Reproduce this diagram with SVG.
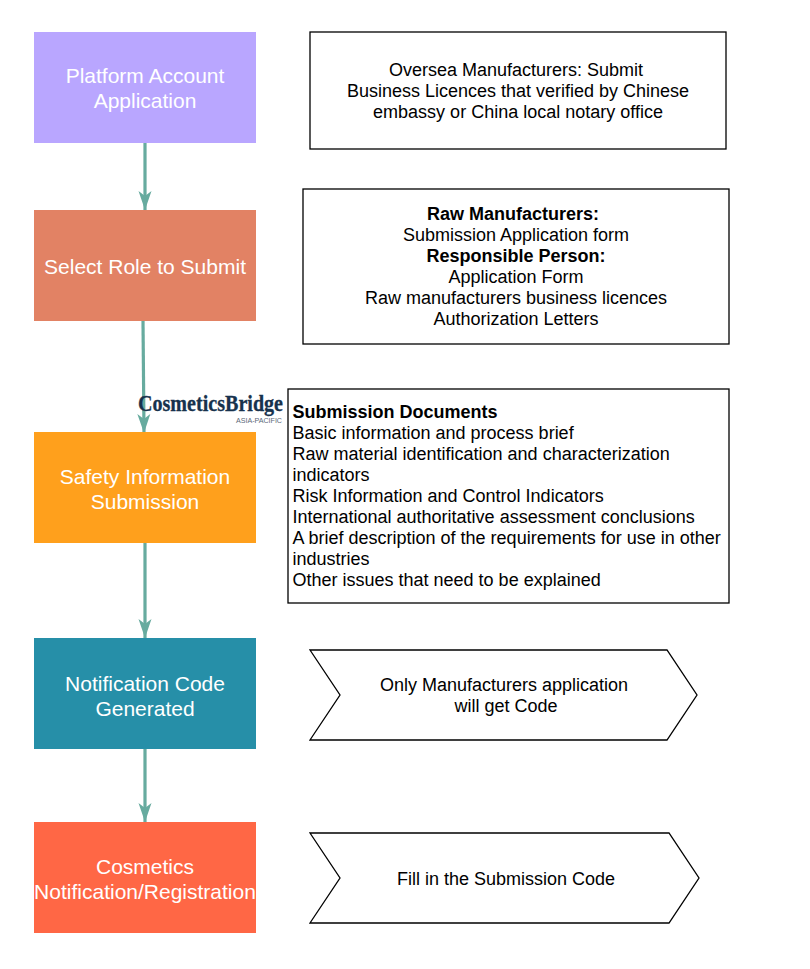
<svg xmlns="http://www.w3.org/2000/svg" width="810" height="969" viewBox="0 0 810 969">
<style>
text{font-family:"Liberation Sans",Arial,sans-serif}
.n text{font-size:21px;fill:#fff;text-anchor:middle}
.b{fill:#fff;stroke:#000;stroke-width:1.3}
.d{font-size:18px;fill:#000;text-anchor:middle}
.l{font-size:18px;fill:#000}
.h{font-weight:bold}
.c{stroke:#67AB9F;stroke-width:3.2;fill:none;marker-end:url(#a)}
</style>
<defs><marker id="a" markerUnits="userSpaceOnUse" markerWidth="20" markerHeight="14" refX="19" refY="7" orient="auto"><path d="M0 .5L19 7L0 13.500L5 7Z" fill="#67AB9F"/></marker></defs>
<rect width="810" height="969" fill="#fff"/>
<g id="connectors">
<path class="c" d="M145 143V210"/>
<path class="c" d="M143 321L144 433"/>
<path class="c" d="M145 543V638"/>
<path class="c" d="M145 749V822"/>
</g>
<g id="n1" class="n"><rect x="34" y="32" width="222" height="111" fill="#B9A6FF"/><text x="145" y="83">Platform Account</text><text x="145" y="108">Application</text></g>
<g id="n2" class="n"><rect x="34" y="210" width="222" height="111" fill="#E28264"/><text x="145" y="274">Select Role to Submit</text></g>
<g id="n3" class="n"><rect x="34" y="432" width="222" height="111" fill="#FFA01C"/><text x="145" y="484">Safety Information</text><text x="145" y="509">Submission</text></g>
<g id="n4" class="n"><rect x="34" y="638" width="222" height="111" fill="#268FA8"/><text x="145" y="691">Notification Code</text><text x="145" y="716">Generated</text></g>
<g id="n5" class="n"><rect x="34" y="822" width="222" height="111" fill="#FF6745"/><text x="145" y="874">Cosmetics</text><text x="145" y="899">Notification/Registration</text></g>
<g id="logo"><text x="138" y="411" font-size="23" font-weight="bold" textLength="145" lengthAdjust="spacingAndGlyphs" fill="#17324d" stroke="#17324d" stroke-width=".3" style="font-family:'Liberation Serif',serif">CosmeticsBridge</text><text x="236" y="423" font-size="7.500" textLength="46" lengthAdjust="spacingAndGlyphs" fill="#5a6878">ASIA-PACIFIC</text></g>
<g id="b1"><rect class="b" x="310" y="32" width="416" height="117"/><text class="d" x="516" y="76">Oversea Manufacturers: Submit</text><text class="d" x="518" y="97">Business Licences that verified by Chinese</text><text class="d" x="518" y="118">embassy or China local notary office</text></g>
<g id="b2"><rect class="b" x="303" y="189" width="426" height="155"/><text class="d h" x="513" y="220">Raw Manufacturers:</text><text class="d" x="516" y="241">Submission Application form</text><text class="d h" x="516" y="262">Responsible Person:</text><text class="d" x="516" y="283">Application Form</text><text class="d" x="516" y="304">Raw manufacturers business licences</text><text class="d" x="516" y="325">Authorization Letters</text></g>
<g id="b3"><rect class="b" x="288" y="389" width="441" height="214"/>
<text class="l h" x="292.500" y="418">Submission Documents</text>
<text class="l" x="292.500" y="439">Basic information and process brief</text>
<text class="l" x="292.500" y="460">Raw material identification and characterization</text>
<text class="l" x="292.500" y="481">indicators</text>
<text class="l" x="292.500" y="502">Risk Information and Control Indicators</text>
<text class="l" x="292.500" y="523">International authoritative assessment conclusions</text>
<text class="l" x="292.500" y="544">A brief description of the requirements for use in other</text>
<text class="l" x="292.500" y="565">industries</text>
<text class="l" x="292.500" y="586">Other issues that need to be explained</text></g>
<g id="s1"><path class="b" d="M310 650H667L697 695L667 740H310L340 695Z"/><text class="d" x="504" y="691">Only Manufacturers application</text><text class="d" x="506" y="712">will get Code</text></g>
<g id="s2"><path class="b" d="M310 833H669L699 878L669 923H310L340 878Z"/><text class="d" x="506" y="885">Fill in the Submission Code</text></g>
</svg>
